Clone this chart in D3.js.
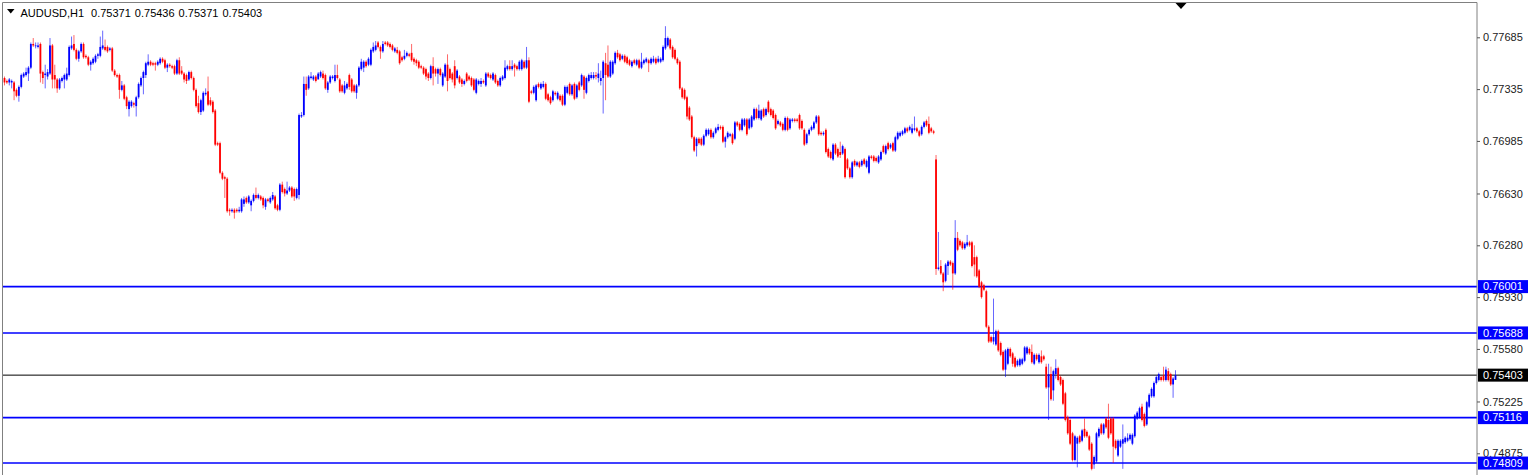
<!DOCTYPE html>
<html>
<head>
<meta charset="utf-8">
<script src="https://d3js.org/d3.v7.min.js"></script>
<style>
  html, body { margin: 0; padding: 0; background: #fff; overflow: hidden; }
  svg { display: block; }
</style>
</head>
<body>
<div id="chart"></div>
<script>
// AUDUSD H1, prices kept in pips (1 pip = 0.0001)
const symbolTitle = "AUDUSD,H1";
const lastBar = [0.75371, 0.75436, 0.75371, 0.75403];

const opens = [
  7741,7739,7738,7738,7738,7733,7729,7735,7742,7743,
  7744,7748,7764,7763,7762,7764,7745,7743,7742,7744,
  7763,7743,7740,7734,7739,7740,7740,7743,7761,7764,
  7760,7754,7759,7764,7756,7755,7750,7751,7752,7756,
  7756,7761,7762,7762,7760,7761,7746,7743,7743,7733,
  7736,7728,7720,7722,7724,7722,7728,7736,7741,7743,
  7750,7752,7751,7751,7750,7751,7754,7753,7748,7750,
  7749,7749,7744,7753,7746,7744,7743,7740,7745,7741,
  7733,7724,7718,7719,7730,7732,7726,7725,7719,7697,
  7697,7677,7674,7673,7652,7651,7652,7652,7651,7651,
  7656,7660,7657,7655,7658,7662,7660,7661,7660,7654,
  7659,7657,7659,7661,7655,7652,7669,7666,7663,7665,
  7667,7666,7660,7662,7715,7716,7737,7734,7741,7740,
  7742,7740,7742,7744,7743,7733,7738,7741,7739,7743,
  7740,7736,7731,7734,7743,7740,7736,7731,7736,7747,
  7748,7752,7750,7750,7759,7760,7765,7762,7759,7765,
  7765,7764,7763,7759,7760,7759,7755,7754,7756,7757,
  7758,7754,7753,7752,7749,7748,7747,7744,7741,7749,
  7747,7744,7747,7736,7742,7750,7747,7744,7749,7741,
  7742,7740,7737,7744,7742,7741,7740,7731,7737,7737,
  7739,7736,7744,7743,7740,7743,7739,7736,7740,7741,
  7747,7749,7747,7750,7749,7747,7747,7752,7748,7753,
  7732,7731,7726,7737,7734,7735,7737,7730,7728,7726,
  7731,7727,7729,7729,7723,7731,7737,7730,7737,7728,
  7738,7736,7742,7731,7739,7741,7741,7743,7741,7739,
  7741,7751,7750,7742,7744,7751,7758,7757,7754,7756,
  7755,7753,7749,7753,7750,7753,7748,7751,7752,7753,
  7751,7752,7754,7752,7752,7753,7761,7763,7767,7762,
  7760,7754,7752,7734,7733,7728,7721,7715,7701,7695,
  7700,7700,7696,7702,7703,7706,7701,7704,7706,7708,
  7708,7698,7701,7702,7703,7700,7711,7710,7706,7709,
  7713,7707,7708,7713,7720,7714,7713,7720,7716,7725,
  7720,7719,7716,7710,7711,7710,7706,7714,7707,7712,
  7713,7713,7716,7712,7706,7697,7703,7706,7707,7711,
  7715,7704,7703,7706,7693,7691,7686,7696,7693,7691,
  7690,7693,7686,7680,7674,7685,7682,7684,7682,7686,
  7681,7677,7688,7688,7687,7684,7686,7695,7690,7697,
  7694,7697,7692,7700,7702,7703,7704,7707,7706,7704,
  7706,7707,7705,7703,7708,7712,7710,7707,7705,7686,
  7612,7614,7609,7604,7614,7617,7616,7609,7633,7631,
  7630,7626,7628,7630,7630,7620,7620,7611,7603,7601,
  7597,7573,7566,7563,7561,7570,7562,7556,7544,7548,
  7558,7555,7552,7547,7547,7548,7550,7555,7558,7556,
  7548,7554,7549,7553,7553,7546,7532,7541,7530,7541,
  7545,7539,7537,7528,7512,7510,7501,7483,7494,7499,
  7496,7504,7502,7499,7494,7480,7482,7499,7507,7501,
  7511,7510,7511,7511,7496,7486,7492,7494,7495,7496,
  7497,7494,7499,7511,7512,7519,7514,7507,7519,7526,
  7526,7535,7537,7539,7540,7537,7543,7541,7534,7537.1
];

const highs = [
  7742,7740,7741,7740,7739,7734,7736,7744,7745,7748,
  7749,7765,7768,7765,7765,7765,7746,7750,7747,7768,
  7764,7750,7741,7741,7742,7744,7748,7763,7769,7770,
  7761,7760,7765,7765,7757,7756,7753,7755,7757,7758,
  7769,7773,7767,7763,7762,7762,7747,7744,7744,7739,
  7737,7729,7726,7726,7725,7729,7738,7742,7746,7752,
  7757,7753,7752,7752,7753,7755,7755,7754,7751,7751,
  7750,7750,7754,7755,7749,7745,7744,7746,7746,7742,
  7734,7729,7727,7732,7734,7742,7728,7726,7720,7698,
  7698,7678,7675,7674,7653,7653,7653,7653,7654,7660,
  7661,7661,7662,7659,7663,7667,7663,7662,7661,7660,
  7660,7661,7664,7662,7656,7670,7671,7667,7671,7668,
  7668,7667,7667,7717,7718,7742,7742,7743,7745,7743,
  7743,7745,7746,7746,7744,7739,7743,7743,7750,7750,
  7741,7737,7739,7738,7744,7741,7737,7737,7749,7754,
  7753,7753,7755,7761,7765,7766,7766,7763,7766,7766,
  7766,7765,7764,7762,7762,7760,7756,7760,7759,7758,
  7764,7755,7754,7753,7750,7749,7748,7745,7750,7755,
  7748,7748,7748,7745,7751,7757,7748,7745,7753,7747,
  7743,7741,7740,7745,7743,7742,7741,7741,7740,7741,
  7740,7745,7745,7744,7745,7744,7740,7742,7743,7753,
  7750,7753,7753,7751,7750,7753,7754,7753,7762,7755,
  7733,7736,7737,7738,7738,7739,7738,7731,7729,7733,
  7732,7732,7730,7730,7736,7736,7738,7737,7738,7737,
  7739,7744,7743,7742,7744,7745,7745,7745,7751,7746,
  7753,7758,7763,7753,7753,7759,7760,7758,7757,7757,
  7756,7754,7753,7754,7754,7754,7758,7754,7755,7754,
  7755,7756,7755,7756,7755,7763,7776,7769,7768,7763,
  7761,7755,7753,7735,7734,7729,7722,7716,7702,7701,
  7701,7701,7703,7707,7707,7707,7705,7708,7710,7709,
  7709,7702,7705,7704,7704,7712,7712,7711,7714,7714,
  7714,7714,7716,7721,7721,7723,7720,7721,7721,7726,
  7721,7720,7717,7713,7712,7711,7715,7715,7714,7714,
  7714,7714,7717,7713,7707,7704,7707,7709,7712,7716,
  7716,7705,7705,7707,7694,7692,7697,7697,7694,7698,
  7696,7694,7687,7681,7685,7686,7685,7685,7686,7687,
  7686,7689,7689,7689,7688,7689,7692,7696,7696,7698,
  7697,7698,7702,7705,7705,7706,7708,7708,7709,7710,
  7715,7708,7706,7709,7712,7713,7715,7708,7706,7689,
  7637,7618,7610,7616,7618,7618,7617,7645,7637,7632,
  7631,7630,7635,7631,7631,7628,7621,7612,7604,7602,
  7598,7574,7567,7592,7571,7571,7563,7557,7558,7559,
  7559,7556,7553,7551,7552,7552,7560,7560,7559,7561,
  7555,7555,7555,7557,7554,7548,7548,7546,7544,7551,
  7546,7540,7538,7529,7513,7511,7502,7500,7499,7500,
  7504,7511,7503,7500,7495,7486,7502,7505,7508,7508,
  7512,7521,7512,7512,7497,7497,7497,7507,7499,7501,
  7501,7501,7514,7516,7519,7521,7515,7523,7528,7532,
  7536,7540,7542,7540,7546,7546,7545,7542,7539,7543.6
];

const lows = [
  7736,7737,7736,7734,7726,7728,7725,7734,7741,7742,
  7739,7747,7762,7761,7761,7738,7737,7734,7740,7743,
  7734,7734,7731,7733,7738,7734,7739,7742,7760,7759,
  7753,7752,7758,7754,7754,7749,7746,7750,7751,7754,
  7755,7760,7759,7758,7759,7745,7742,7741,7727,7732,
  7726,7720,7715,7721,7721,7715,7727,7735,7730,7741,
  7749,7749,7749,7746,7749,7750,7751,7747,7745,7748,
  7747,7743,7743,7743,7743,7738,7737,7739,7740,7732,
  7721,7717,7716,7718,7729,7722,7722,7717,7695,7695,
  7676,7672,7660,7650,7648,7650,7646,7650,7650,7650,
  7654,7656,7656,7651,7657,7659,7659,7658,7653,7652,
  7657,7656,7658,7652,7651,7651,7663,7661,7662,7664,
  7660,7658,7659,7659,7714,7715,7729,7733,7740,7739,
  7738,7741,7741,7740,7733,7731,7737,7740,7738,7740,
  7731,7731,7730,7733,7733,7731,7731,7727,7735,7746,
  7745,7748,7749,7749,7758,7759,7761,7754,7758,7763,
  7762,7761,7759,7758,7757,7750,7752,7753,7755,7755,
  7752,7750,7749,7747,7747,7743,7740,7739,7740,7736,
  7742,7737,7742,7735,7741,7732,7740,7738,7734,7740,
  7737,7735,7736,7738,7739,7735,7732,7730,7736,7735,
  7737,7735,7741,7740,7739,7737,7735,7735,7739,7740,
  7746,7746,7746,7742,7746,7746,7746,7747,7747,7724,
  7730,7730,7725,7734,7733,7734,7726,7725,7723,7725,
  7729,7726,7725,7722,7722,7730,7729,7729,7726,7727,
  7732,7735,7727,7730,7738,7740,7740,7740,7738,7736,
  7717,7726,7741,7741,7743,7750,7754,7752,7753,7751,
  7750,7749,7748,7750,7749,7747,7747,7750,7751,7745,
  7750,7751,7750,7751,7751,7752,7760,7762,7760,7754,
  7753,7750,7733,7727,7726,7713,7712,7700,7691,7688,
  7696,7695,7695,7701,7702,7700,7700,7703,7705,7706,
  7697,7694,7700,7701,7696,7699,7708,7705,7705,7708,
  7702,7706,7707,7712,7713,7713,7712,7714,7715,7717,
  7715,7713,7706,7709,7708,7705,7705,7705,7706,7711,
  7711,7711,7706,7706,7695,7696,7702,7705,7706,7710,
  7702,7702,7702,7690,7687,7686,7685,7689,7687,7687,
  7689,7673,7679,7673,7673,7681,7681,7680,7681,7682,
  7680,7676,7686,7684,7684,7683,7685,7690,7689,7692,
  7693,7691,7691,7699,7701,7702,7703,7704,7705,7703,
  7705,7704,7701,7702,7707,7708,7703,7704,7703,7608,
  7611,7608,7597,7603,7608,7614,7598,7608,7624,7627,
  7625,7625,7627,7627,7613,7607,7606,7599,7592,7597,
  7572,7562,7562,7561,7560,7556,7553,7543,7539,7547,
  7552,7546,7545,7546,7546,7547,7549,7554,7554,7548,
  7547,7550,7548,7548,7550,7531,7510,7523,7523,7538,
  7536,7533,7520,7509,7500,7493,7482,7482,7478,7494,
  7495,7498,7498,7489,7476,7477,7481,7498,7500,7500,
  7504,7497,7500,7481,7490,7485,7491,7477,7494,7495,
  7496,7493,7498,7510,7511,7509,7505,7506,7518,7525,
  7525,7534,7536,7536,7536,7536,7536,7533,7525,7537.1
];

const closes = [
  7738,7738,7740,7739,7732,7729,7735,7743,7744,7745,
  7748,7764,7763,7763,7763,7744,7741,7744,7745,7763,
  7740,7740,7734,7740,7741,7743,7744,7762,7763,7760,
  7754,7759,7764,7755,7755,7750,7752,7754,7756,7757,
  7762,7763,7760,7759,7761,7746,7743,7742,7733,7736,
  7727,7722,7725,7725,7723,7728,7737,7741,7745,7751,
  7752,7750,7750,7750,7752,7754,7752,7748,7750,7749,
  7748,7744,7753,7744,7744,7740,7739,7745,7741,7733,
  7722,7718,7726,7731,7731,7723,7723,7718,7696,7696,
  7677,7673,7673,7651,7651,7652,7650,7651,7652,7659,
  7659,7657,7661,7658,7662,7660,7662,7659,7655,7659,
  7658,7660,7662,7653,7652,7669,7664,7663,7665,7667,
  7661,7661,7666,7716,7716,7737,7733,7742,7742,7742,
  7739,7744,7745,7741,7734,7738,7742,7742,7743,7741,
  7732,7732,7736,7737,7735,7732,7732,7736,7748,7752,
  7752,7749,7754,7760,7762,7763,7762,7759,7764,7764,
  7763,7762,7760,7761,7758,7751,7753,7756,7758,7756,
  7753,7752,7751,7748,7748,7744,7742,7741,7749,7744,
  7744,7747,7743,7744,7750,7739,7741,7740,7736,7746,
  7738,7737,7739,7739,7740,7736,7733,7740,7739,7739,
  7738,7744,7742,7741,7744,7738,7736,7741,7742,7748,
  7749,7747,7749,7748,7747,7752,7753,7748,7753,7725,
  7731,7735,7736,7735,7737,7737,7727,7726,7724,7732,
  7730,7731,7726,7723,7735,7735,7730,7736,7727,7736,
  7733,7743,7733,7741,7743,7743,7743,7742,7744,7741,
  7752,7743,7742,7752,7752,7758,7755,7753,7756,7752,
  7751,7750,7752,7751,7753,7748,7752,7753,7754,7751,
  7754,7754,7751,7754,7754,7762,7768,7768,7761,7755,
  7754,7751,7734,7728,7727,7715,7713,7701,7692,7700,
  7697,7696,7702,7706,7706,7701,7704,7707,7708,7707,
  7698,7701,7704,7703,7697,7711,7709,7706,7713,7713,
  7703,7713,7715,7720,7714,7719,7719,7715,7720,7718,
  7716,7714,7707,7712,7709,7706,7714,7706,7713,7713,
  7712,7712,7707,7707,7696,7703,7706,7708,7711,7715,
  7703,7703,7704,7691,7688,7687,7696,7690,7688,7689,
  7695,7674,7680,7674,7684,7682,7684,7681,7685,7683,
  7685,7688,7687,7685,7685,7688,7691,7691,7695,7693,
  7696,7692,7701,7704,7704,7705,7707,7705,7708,7707,
  7707,7705,7702,7708,7711,7709,7704,7705,7704,7612,
  7613,7609,7603,7615,7617,7615,7609,7633,7625,7628,
  7626,7629,7630,7628,7614,7615,7607,7600,7593,7598,
  7573,7563,7563,7566,7570,7557,7554,7544,7557,7558,
  7553,7548,7546,7550,7551,7551,7559,7559,7555,7549,
  7554,7551,7554,7549,7551,7532,7541,7524,7543,7545,
  7537,7534,7521,7510,7501,7494,7483,7499,7498,7495,
  7503,7499,7499,7490,7477,7485,7501,7504,7501,7507,
  7505,7498,7501,7492,7491,7496,7496,7497,7498,7498,
  7500,7500,7513,7515,7518,7510,7506,7522,7527,7531,
  7535,7539,7541,7537,7537,7544,7537,7534,7538,7540.3
];

const priceTicks = [0.77685, 0.77335, 0.76985, 0.76630, 0.76280, 0.75930, 0.75580, 0.75225, 0.74875];
const levelLines = [0.76001, 0.75688, 0.75116, 0.74809];
const bidPrice = 0.75403;

function renderCandleChart(id) {
    const width = 1536;
    const height = 475;
    const plot = { left: 3, right: 1477, top: 2.5, bottom: 475 };
    const pip = 0.0001;
    const fontFamily = '"Liberation Sans", Arial, sans-serif';

    d3.select(`#${id}`).select('svg').remove();

    const svg = d3.select(`#${id}`)
                  .append('svg')
                  .attr('width', width)
                  .attr('height', height);

    const n = closes.length;
    const xScale = d3.scaleLinear()
                     .domain([0, n - 1])
                     .range([4.5, 1175.5]);
    const yScale = d3.scaleLinear()
                     .domain([0.747284, 0.779167])
                     .range([475, 3]);

    const candles = d3.range(n).map(i => ({
        i,
        o: opens[i] * pip,
        h: highs[i] * pip,
        l: lows[i] * pip,
        c: closes[i] * pip
    }));
    const colorOf = d => d.c >= d.o ? '#0000ff' : '#ff0000';

    const plotArea = svg.append('g');

    // support / resistance levels
    plotArea.selectAll('line.level')
            .data(levelLines)
            .enter()
            .append('line')
            .attr('class', 'level')
            .attr('x1', plot.left)
            .attr('x2', plot.right)
            .attr('y1', d => yScale(d))
            .attr('y2', d => yScale(d))
            .attr('stroke', '#0000ff')
            .attr('stroke-width', 1.6);

    // bid line
    plotArea.append('line')
            .attr('x1', plot.left)
            .attr('x2', plot.right)
            .attr('y1', yScale(bidPrice))
            .attr('y2', yScale(bidPrice))
            .attr('stroke', '#000')
            .attr('stroke-width', 1);

    // wicks
    plotArea.append('g')
            .selectAll('line')
            .data(candles)
            .enter()
            .append('line')
            .attr('x1', d => xScale(d.i))
            .attr('x2', d => xScale(d.i))
            .attr('y1', d => yScale(d.h))
            .attr('y2', d => yScale(d.l))
            .attr('stroke', colorOf)
            .attr('stroke-opacity', 0.75)
            .attr('stroke-width', 0.8);

    // bodies
    plotArea.append('g')
            .selectAll('rect')
            .data(candles)
            .enter()
            .append('rect')
            .attr('x', d => xScale(d.i) - 0.9)
            .attr('width', 1.8)
            .attr('y', d => yScale(Math.max(d.o, d.c)))
            .attr('height', d => Math.max(0.8, Math.abs(yScale(d.o) - yScale(d.c))))
            .attr('fill', colorOf);

    // frame
    svg.append('path')
       .attr('d', `M${plot.left - 0.5},${height} V${plot.top} H${plot.right} V${height}`)
       .attr('fill', 'none')
       .attr('stroke', '#808080')
       .attr('stroke-width', 1);

    // price axis
    const yAxis = d3.axisRight(yScale)
                    .tickValues(priceTicks)
                    .tickFormat(d3.format('.5f'))
                    .tickSize(3)
                    .tickPadding(3);
    const axisG = svg.append('g')
                     .attr('transform', `translate(${plot.right}, 0)`)
                     .call(yAxis);
    axisG.select('.domain').remove();
    axisG.selectAll('line').attr('stroke', '#555');
    axisG.selectAll('text')
         .attr('font-family', fontFamily)
         .attr('font-size', 11)
         .attr('fill', '#222');

    // price labels for levels and bid
    const tags = levelLines.map(v => ({ v, fill: '#0000ff' }))
                           .concat([{ v: bidPrice, fill: '#000' }]);
    const tagG = svg.append('g')
                    .selectAll('g')
                    .data(tags)
                    .enter()
                    .append('g')
                    .attr('transform', d => `translate(${plot.right + 1}, ${yScale(d.v)})`);
    tagG.append('rect')
        .attr('x', 0)
        .attr('y', -6.5)
        .attr('width', 50)
        .attr('height', 13)
        .attr('fill', d => d.fill);
    tagG.append('text')
        .attr('x', 5)
        .attr('dy', '0.35em')
        .attr('font-family', fontFamily)
        .attr('font-size', 11)
        .attr('fill', '#fff')
        .text(d => d3.format('.5f')(d.v));

    // chart shift marker
    const shiftX = xScale(n - 1) + 5.5;
    svg.append('path')
       .attr('d', `M${shiftX - 5.5},3 L${shiftX + 5.5},3 L${shiftX},9 Z`)
       .attr('fill', '#000');

    // header
    svg.append('path')
       .attr('d', 'M7,9 L14.5,9 L10.75,13.5 Z')
       .attr('fill', '#000');
    const header = svg.append('text')
                      .attr('x', 20.5)
                      .attr('y', 16.5)
                      .attr('font-family', fontFamily)
                      .attr('font-size', 11)
                      .attr('fill', '#000');
    header.append('tspan').text(symbolTitle);
    lastBar.forEach((v, k) => {
        header.append('tspan')
              .attr('dx', k === 0 ? 7 : 4)
              .text(d3.format('.5f')(v));
    });
}

renderCandleChart('chart');
</script>
</body>
</html>
